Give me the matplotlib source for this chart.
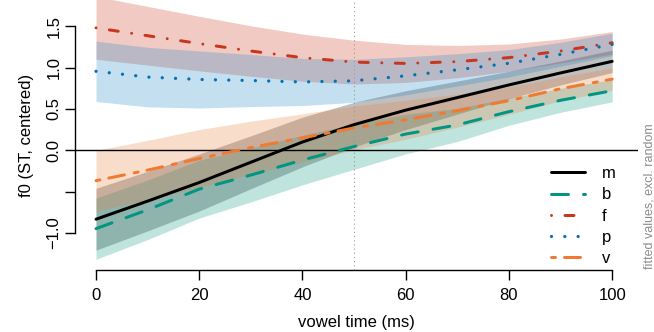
"""
Fitted f0 contours over vowel time, per onset consonant.

Smooth estimates with 95% confidence bands (fitted values, excl. random
effects), one curve per onset: m, b, f, p, v.

Generates:
  - out.png
"""

import matplotlib
matplotlib.use("Agg")
import matplotlib.pyplot as plt

# ------------------------------------------------------------------ #
#  Data
# ------------------------------------------------------------------ #

time_ms = [0, 10, 20, 30, 40, 50, 60, 70, 80, 90, 100]

fit_m = [-0.834, -0.615, -0.39, -0.145, 0.10, 0.31, 0.485, 0.637, 0.79, 0.935, 1.075]
fit_b = [-0.948, -0.72, -0.47, -0.30, -0.118, 0.045, 0.196, 0.306, 0.467, 0.604, 0.72]
fit_f = [1.48, 1.385, 1.29, 1.20, 1.12, 1.066, 1.05, 1.072, 1.12, 1.20, 1.30]
fit_p = [0.955, 0.885, 0.856, 0.843, 0.826, 0.84, 0.90, 0.973, 1.052, 1.16, 1.28]
fit_v = [-0.368, -0.24, -0.10, 0.032, 0.15, 0.27, 0.368, 0.479, 0.60, 0.744, 0.86]

# half width of the 95% CI
ci_m = [0.374, 0.36, 0.345, 0.32, 0.30, 0.27, 0.235, 0.20, 0.165, 0.145, 0.135]
ci_b = [0.37, 0.36, 0.35, 0.325, 0.30, 0.275, 0.24, 0.20, 0.165, 0.145, 0.135]
ci_f = [0.38, 0.355, 0.33, 0.305, 0.285, 0.265, 0.23, 0.195, 0.165, 0.145, 0.135]
ci_p = [0.365, 0.36, 0.345, 0.315, 0.285, 0.26, 0.23, 0.195, 0.165, 0.145, 0.135]
ci_v = [0.368, 0.36, 0.35, 0.32, 0.29, 0.265, 0.235, 0.20, 0.165, 0.145, 0.135]

labels = ["m", "b", "f", "p", "v"]

y_ticks = [-1.0, -0.5, 0.0, 0.5, 1.0, 1.5]
y_ticklabels = ["\u22121.0", "", "0.0", "0.5", "1.0", "1.5"]
x_ticks = [0, 20, 40, 60, 80, 100]

# ------------------------------------------------------------------ #
#  Styles
# ------------------------------------------------------------------ #

PX = 0.72  # points per pixel at dpi=100

plt.rcParams["font.family"] = ["Liberation Sans", "DejaVu Sans"]
plt.rcParams["lines.scale_dashes"] = False

styles = {
    "m": dict(color="#000000", lw=3.0 * PX, ls="-"),
    "b": dict(color="#009682", lw=3.0 * PX, ls=(0, (17 * PX, 15 * PX))),
    "f": dict(color="#C8361E", lw=3.0 * PX,
              ls=(0, (0.01, 13.5 * PX, 9 * PX, 13.5 * PX))),
    "p": dict(color="#0072B2", lw=3.3 * PX, ls=(0, (0.01, 13.3 * PX))),
    "v": dict(color="#F07A32", lw=3.0 * PX,
              ls=(0, (4 * PX, 9 * PX, 16 * PX, 10 * PX))),
}
band_colors = {
    "m": "#000000",
    "b": "#00937B",
    "f": "#CB3313",
    "p": "#1383C7",
    "v": "#EB7B33",
}

series = {
    "m": (fit_m, ci_m),
    "b": (fit_b, ci_b),
    "f": (fit_f, ci_f),
    "p": (fit_p, ci_p),
    "v": (fit_v, ci_v),
}

# ------------------------------------------------------------------ #
#  Plotting
# ------------------------------------------------------------------ #

W, H = 654, 332
fig = plt.figure(figsize=(W / 100, H / 100), dpi=100)
ax = fig.add_axes([75 / W, 1 - 270 / H, (638 - 75) / W, 270 / H])

for key in labels:
    fit, ci = series[key]
    lo = [f - c for f, c in zip(fit, ci)]
    hi = [f + c for f, c in zip(fit, ci)]
    ax.fill_between(time_ms, lo, hi, color=band_colors[key], alpha=0.25,
                    lw=0, zorder=1)

ax.axhline(0, color="black", lw=1.0, zorder=2)
ax.axvline(50, color="#9a9a9a", lw=0.8, ls=(0, (0.8, 2.2)), zorder=2)

handles = []
for key in labels:
    fit, _ = series[key]
    st = styles[key]
    (line,) = ax.plot(time_ms, fit, color=st["color"], lw=st["lw"],
                      linestyle=st["ls"], dash_capstyle="round",
                      solid_capstyle="round", label=key, zorder=3)
    handles.append(line)

ax.set_xlim(-4.07, 105.0)
ax.set_ylim(-1.448, 1.817)

for side in ("top", "right"):
    ax.spines[side].set_visible(False)
ax.spines["left"].set_bounds(-1.0, 1.5)
ax.spines["bottom"].set_bounds(0, 100)
for side in ("left", "bottom"):
    ax.spines[side].set_linewidth(1.0)

ax.set_xticks(x_ticks)
ax.set_xticklabels([str(t) for t in x_ticks])
ax.set_yticks(y_ticks)
ax.set_yticklabels(y_ticklabels, rotation=90, va="center")
ax.tick_params(axis="both", direction="out", length=7.2, width=1.0,
               labelsize=12)
ax.tick_params(axis="x", pad=5.5)
ax.tick_params(axis="y", pad=2.5)

fig.text(356 / W, 1 - 323 / H, "vowel time (ms)", ha="center", va="center",
         fontsize=12)
fig.text(27 / W, 1 - 135 / H, "f0 (ST, centered)", ha="center", va="center",
         rotation=90, fontsize=12)
fig.text(649 / W, 1 - 269 / H, "fitted values, excl. random", ha="left",
         va="center", rotation=90, rotation_mode="anchor", fontsize=9,
         color="#8c8c8c")

ax.legend(handles=handles, loc="lower right", frameon=False,
          bbox_to_anchor=(0.96, 0.015), borderaxespad=0, borderpad=0,
          handlelength=2.04, handletextpad=1.0, labelspacing=0.37,
          fontsize=12)

fig.savefig("out.png", dpi=100)
plt.close(fig)
